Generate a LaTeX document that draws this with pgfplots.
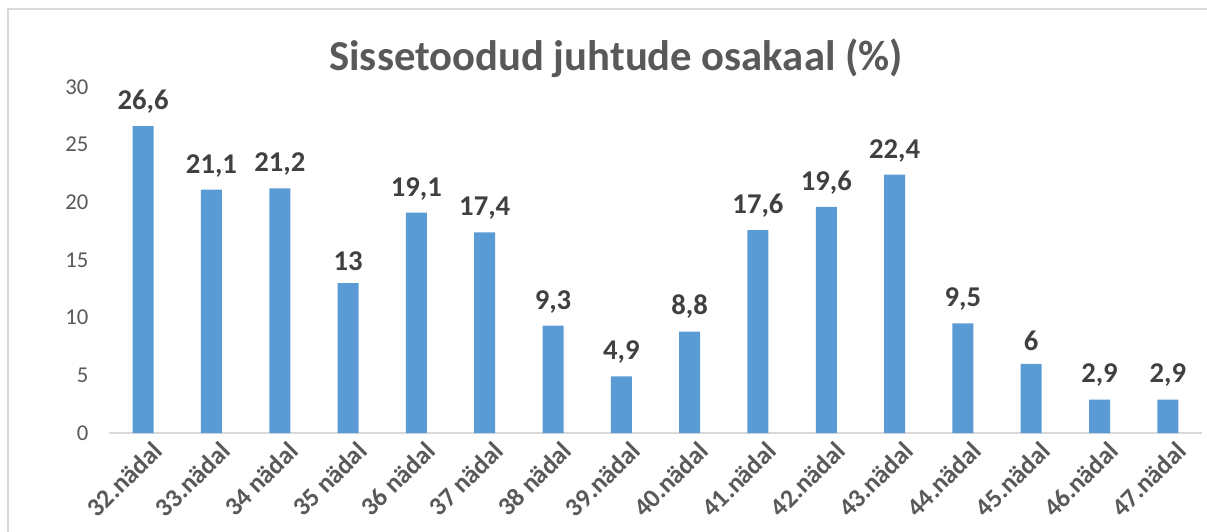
\documentclass[border=0pt]{standalone}
\usepackage{pgfplots}
\pgfplotsset{compat=1.18}
\usepackage{fontspec}
\setmainfont{Carlito}
\definecolor{barblue}{HTML}{5B9BD5}
\definecolor{ticktext}{HTML}{595959}
\definecolor{labtext}{HTML}{404040}
\definecolor{axisgray}{HTML}{D9D9D9}
\begin{document}
\begin{tikzpicture}
\useasboundingbox (0,0) rectangle (905.25pt,399pt);
\draw[axisgray, line width=1.2pt] (6pt,0) -- (6pt,392.25pt) -- (905.25pt,392.25pt);
\node[font=\fontsize{32}{35}\selectfont\bfseries, text=ticktext] at (462pt,355.5pt) {Sissetoodud juhtude osakaal (\%)};
\begin{axis}[
  at={(81.75pt,74.25pt)}, anchor=south west,
  scale only axis,
  width=819.75pt, height=259.5pt,
  xmin=-0.5, xmax=15.5,
  ymin=0, ymax=30,
  ytick={0,5,...,30},
  xtick={0,...,15},
  xticklabels={32.nädal,33.nädal,34 nädal,35 nädal,36 nädal,37 nädal,38 nädal,39.nädal,40.nädal,41.nädal,42.nädal,43.nädal,44.nädal,45.nädal,46.nädal,47.nädal},
  separate axis lines,
  axis x line*=bottom,
  axis y line*=left,
  x axis line style={axisgray, line width=1.2pt, -},
  y axis line style={draw=none},
  major tick length=0pt,
  yticklabel style={font=\fontsize{17}{19}\selectfont, text=ticktext, anchor=east, xshift=-12pt},
  xticklabel style={font=\fontsize{19.5}{21}\selectfont\bfseries, text=ticktext, rotate=45, anchor=north east, xshift=4pt, yshift=-4pt},
  /pgf/number format/assume math mode=true,
  ybar, bar width=15.75pt,
  nodes near coords={\pgfmathprintnumber[use comma]{\pgfplotspointmeta}},
  nodes near coords style={font=\fontsize{21.5}{24}\selectfont\bfseries, text=labtext, yshift=6pt},
  clip=false,
]
\addplot[fill=barblue, draw=none] coordinates {(0,26.6) (1,21.1) (2,21.2) (3,13) (4,19.1) (5,17.4) (6,9.3) (7,4.9) (8,8.8) (9,17.6) (10,19.6) (11,22.4) (12,9.5) (13,6) (14,2.9) (15,2.9)};
\end{axis}
\end{tikzpicture}
\end{document}
